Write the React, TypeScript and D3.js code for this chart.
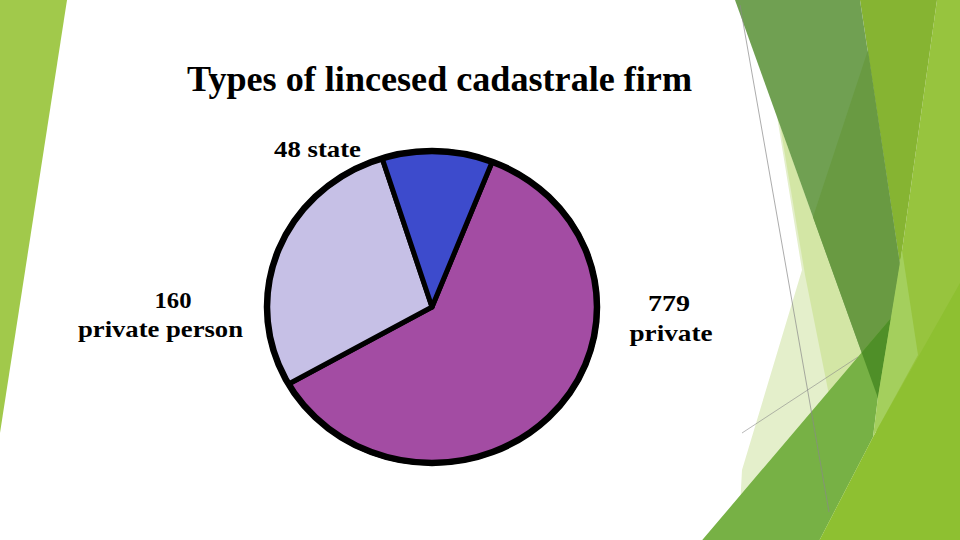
import React from "react";
import * as d3 from "d3";

// Slice labels (values as printed on the chart)
const categories = ["private", "private person", "state"];
const labelValues = ["779", "160", "48"];
// Drawn slice sizes as they appear in the picture (degrees of the drawn pie)
const drawnShares = [219, 102, 39];
const sliceColors = ["#A34CA3", "#C6C0E6", "#3D4BCC"];
const titleText = "Types of lincesed cadastrale firm";

type Pt = [number, number];
const poly = (pts: Pt[]) => pts.map((p) => p.join(",")).join(" ");

// Decorative slide background (Facet-like theme)
const bgLeft: Pt[] = [[0, 0], [67, 0], [0, 433]];
const bgP1: Pt[] = [[776, 110], [878, 398], [873, 437], [817, 545], [738, 545], [742, 470], [802, 270]];
const bgP2: Pt[] = [[780, 125], [878, 398], [830, 400], [805, 275]];
const bgR1: Pt[] = [[900, 265], [937, 0], [960, 0], [960, 545], [870, 545], [878, 400]];
const bgR2: Pt[] = [[860, 0], [937, 0], [900, 265]];
const bgA: Pt[] = [[735, 0], [860, 0], [900, 265], [878, 398]];
const bgB: Pt[] = [[868, 50], [900, 265], [878, 398], [813, 217]];
const bgC: Pt[] = [[698, 545], [891, 318], [878, 397], [873, 437], [817, 545]];
const bgE: Pt[] = [[902, 250], [918, 355], [873, 437], [878, 397]];
const bgD: Pt[] = [[817, 545], [873, 437], [960, 283], [960, 545]];

export default function App() {
  const cx = 432;
  const cy = 307;
  const rx = 165;
  const ry = 156;
  const start = (21.4 * Math.PI) / 180;

  const pie = d3
    .pie<number>()
    .sort(null)
    .value((d) => d)
    .startAngle(start)
    .endAngle(start + Math.PI * 2);
  const arcs = pie(drawnShares);
  const arc = d3.arc<d3.PieArcDatum<number>>().innerRadius(0).outerRadius(1);

  const font = "'Liberation Serif', 'Times New Roman', serif";

  return (
    <svg
      width={960}
      height={540}
      viewBox="0 0 960 540"
      style={{ position: "absolute", left: 0, top: 0, background: "#ffffff" }}
    >
      <defs>
        <clipPath id="clipC">
          <polygon points={poly(bgC)} />
        </clipPath>
      </defs>
      <rect x={0} y={0} width={960} height={540} fill="#ffffff" />
      <polygon points={poly(bgLeft)} fill="#A1C94B" />
      <polygon points={poly(bgP1)} fill="#E4EFCB" />
      <polygon points={poly(bgP2)} fill="#D3E6A5" />
      <polygon points={poly(bgR1)} fill="#97C43E" />
      <polygon points={poly(bgR2)} fill="#86B432" />
      <polygon points={poly(bgA)} fill="#70A052" />
      <polygon points={poly(bgB)} fill="#699A42" />
      <polygon points={poly(bgC)} fill="#77B145" />
      <polygon points={poly(bgA)} fill="#4F8F28" clipPath="url(#clipC)" />
      <polygon points={poly(bgE)} fill="#A4CF5D" />
      <polygon points={poly(bgD)} fill="#8EC031" />
      <line x1={740} y1={5} x2={829} y2={512} stroke="#8A8A8A" strokeWidth={1} opacity={0.7} />
      <line x1={742} y1={433} x2={858} y2={357} stroke="#8A8A8A" strokeWidth={1} opacity={0.6} />

      <text
        x={439.5}
        y={91}
        textAnchor="middle"
        fontFamily={font}
        fontWeight="bold"
        fontSize={36}
        fill="#000"
        textLength={505}
        lengthAdjust="spacingAndGlyphs"
      >
        {titleText}
      </text>

      <g transform={`translate(${cx},${cy}) scale(${rx},${ry})`}>
        {arcs.map((a, i) => (
          <path
            key={categories[i]}
            d={arc(a) || ""}
            fill={sliceColors[i]}
            stroke="#000"
            strokeWidth={5}
            strokeLinejoin="round"
            vectorEffect="non-scaling-stroke"
          />
        ))}
      </g>
      <ellipse cx={cx} cy={cy} rx={rx} ry={ry} fill="none" stroke="#000" strokeWidth={6.5} />

      {/* state */}
      <text x={317.5} y={157} textAnchor="middle" fontFamily={font} fontWeight="bold" fontSize={24}
        textLength={87} lengthAdjust="spacingAndGlyphs">
        {`${labelValues[2]} ${categories[2]}`}
      </text>
      {/* private person */}
      <text x={173} y={308} textAnchor="middle" fontFamily={font} fontWeight="bold" fontSize={24}
        textLength={37} lengthAdjust="spacingAndGlyphs">
        {labelValues[1]}
      </text>
      <text x={160.5} y={337} textAnchor="middle" fontFamily={font} fontWeight="bold" fontSize={24}
        textLength={165} lengthAdjust="spacingAndGlyphs">
        {categories[1]}
      </text>
      {/* private */}
      <text x={669} y={311} textAnchor="middle" fontFamily={font} fontWeight="bold" fontSize={24}
        textLength={42} lengthAdjust="spacingAndGlyphs">
        {labelValues[0]}
      </text>
      <text x={671} y={341} textAnchor="middle" fontFamily={font} fontWeight="bold" fontSize={24}
        textLength={83} lengthAdjust="spacingAndGlyphs">
        {categories[0]}
      </text>
    </svg>
  );
}
